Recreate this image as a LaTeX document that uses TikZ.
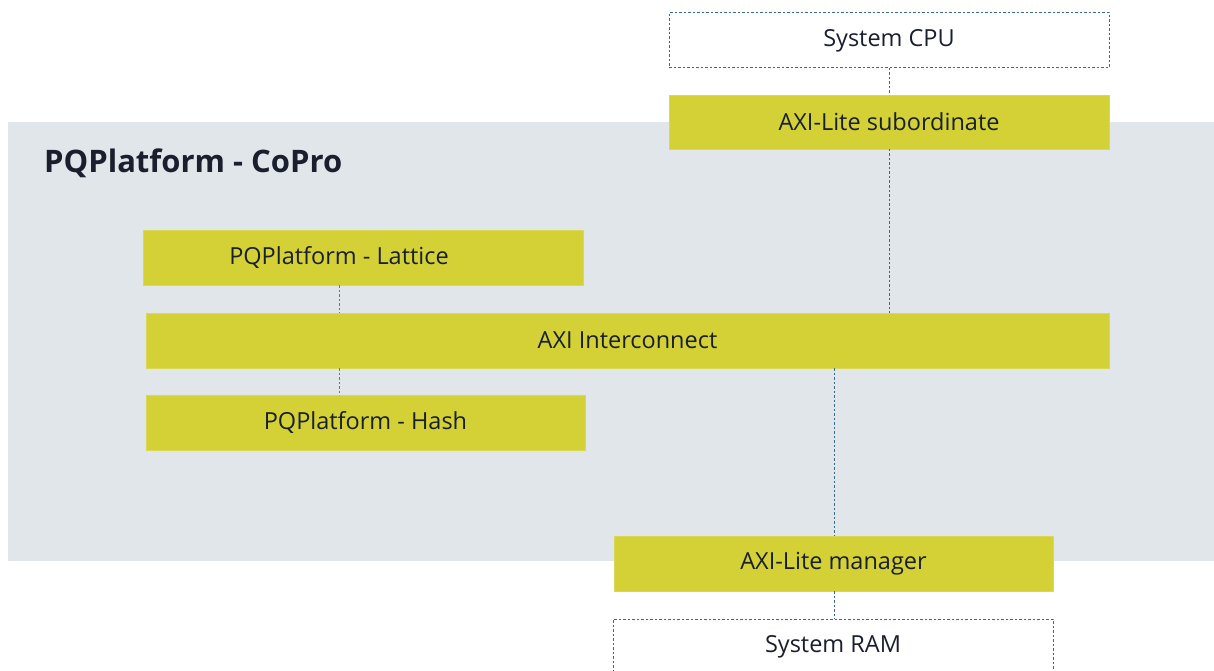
\documentclass[tikz,border=0pt]{standalone}
\usepackage{fontspec}
\setmainfont{Open Sans}
\definecolor{bggray}{HTML}{E1E6EA}
\definecolor{blockfill}{HTML}{D4D136}
\definecolor{txt}{HTML}{1A1F2E}
\definecolor{dashblue}{HTML}{3A6A8A}
\definecolor{dashgray}{HTML}{6E7686}
\tikzset{
  blockbox/.style={rectangle, fill=blockfill, draw=blockfill!85!white, line width=0.6pt, inner sep=0pt, outer sep=0pt, minimum height=55pt, text=txt, font=\fontsize{23.5}{28}\selectfont},
  extbox/.style={rectangle, fill=white, draw=dashblue, dash pattern=on 2.5pt off 2pt, line width=1pt, inner sep=0pt, outer sep=0pt, minimum height=55pt, text=txt, font=\fontsize{23.5}{28}\selectfont},
  bluelink/.style={draw=dashblue, dash pattern=on 2.5pt off 2pt, line width=1pt},
  graylink/.style={draw=dashgray, dash pattern=on 2.5pt off 2pt, line width=1pt},
}
\begin{document}
\begin{tikzpicture}[x=1pt,y=-1pt]
\clip (0,0) rectangle (1214,671);
\fill[white] (0,0) rectangle (1214,671);
\fill[bggray] (8,122) rectangle (1214,561);
\node[anchor=base west, inner sep=0pt, text=txt, font=\fontsize{31}{36}\selectfont\bfseries] (title) at (44,173) {PQPlatform - CoPro};
\node[extbox, minimum width=440pt] (cpu) at (889,40.5) {System CPU};
\node[blockbox, minimum width=440pt, minimum height=54pt] (sub) at (889,122) {AXI-Lite subordinate};
\node[blockbox, minimum width=440pt] (lat) at (363,257.5) {\hspace*{-48pt}PQPlatform - Lattice};
\node[blockbox, minimum width=963pt] (inter) at (627.5,340.5) {AXI Interconnect};
\node[blockbox, minimum width=439pt] (hash) at (365.5,422.5) {PQPlatform - Hash};
\node[blockbox, minimum width=439pt] (mgr) at (833.5,563.5) {AXI-Lite manager};
\node[extbox, minimum width=440pt] (ram) at (833,646.5) {System RAM};
\coordinate (lx) at (339,0);
\coordinate (mx) at (834,0);
\draw[bluelink] (cpu.south) -- (sub.north);
\draw[bluelink] (sub.south) -- (inter.north -| sub.south);
\draw[graylink] (lat.south -| lx) -- (inter.north -| lx);
\draw[graylink] (inter.south -| lx) -- (hash.north -| lx);
\draw[bluelink] (inter.south -| mx) -- (mgr.north -| mx);
\draw[bluelink] (mgr.south -| mx) -- (ram.north -| mx);
\end{tikzpicture}
\end{document}
